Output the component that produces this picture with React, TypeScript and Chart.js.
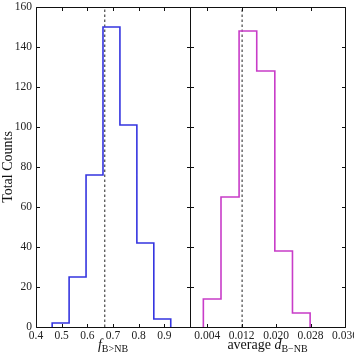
import React, { useEffect, useRef } from 'react';
import { Chart, registerables } from 'chart.js';

Chart.register(...registerables);

const W = 354;
const H = 353;

const yTickValues = [0, 20, 40, 60, 80, 100, 120, 140, 160];

const fEdges = [0.463, 0.529, 0.595, 0.661, 0.727, 0.793, 0.859, 0.925];
const fCounts = [2, 25, 76, 150, 101, 42, 4];
const fMarker = 0.668;
const fTickValues = [0.4, 0.5, 0.6, 0.7, 0.8, 0.9, 1.0];
const fTickLabels = ['0.4', '0.5', '0.6', '0.7', '0.8', '0.9', ''];

const dEdges = [0.0031, 0.0072, 0.0114, 0.0155, 0.0197, 0.0238, 0.0279];
const dCounts = [14, 65, 148, 128, 38, 7];
const dMarker = 0.0121;
const dTickValues = [0.004, 0.012, 0.02, 0.028, 0.036];
const dTickLabels = ['0.004', '0.012', '0.020', '0.028', '0.036'];

const SERIF = '"Liberation Serif", "DejaVu Serif", serif';

type Part = { text: string; font: string; dy?: number };

function stepPoints(edges: number[], counts: number[]) {
  const pts = [{ x: edges[0], y: 0 }];
  counts.forEach((c, i) => pts.push({ x: edges[i], y: c }));
  pts.push({ x: edges[edges.length - 1], y: 0 });
  return pts;
}

function makeFramePlugin(xTitle: Part[], yTitle: string | null) {
  return {
    id: 'frameTicks',
    afterDraw(chart: any) {
      const { ctx, chartArea: a, scales } = chart;
      const L = Math.round(a.left) + 0.5;
      const R = Math.round(a.right) + 0.5;
      const T = Math.round(a.top) + 0.5;
      const B = Math.round(a.bottom) + 0.5;
      const tl = 3.5;
      ctx.save();
      ctx.strokeStyle = '#111';
      ctx.lineWidth = 1;
      ctx.beginPath();
      ctx.rect(L, T, R - L, B - T);
      ctx.stroke();
      ctx.beginPath();
      scales.x.ticks.forEach((t: any) => {
        const px = Math.round(scales.x.getPixelForValue(t.value)) + 0.5;
        ctx.moveTo(px, B);
        ctx.lineTo(px, B - tl);
        ctx.moveTo(px, T);
        ctx.lineTo(px, T + tl);
      });
      scales.y.ticks.forEach((t: any) => {
        const py = Math.round(scales.y.getPixelForValue(t.value)) + 0.5;
        ctx.moveTo(L, py);
        ctx.lineTo(L + tl, py);
        ctx.moveTo(R, py);
        ctx.lineTo(R - tl, py);
      });
      ctx.stroke();

      // x title
      ctx.fillStyle = '#111';
      ctx.textBaseline = 'alphabetic';
      ctx.textAlign = 'left';
      let total = 0;
      xTitle.forEach((p) => {
        ctx.font = p.font;
        total += ctx.measureText(p.text).width;
      });
      let x = (a.left + a.right) / 2 - total / 2;
      const base = 349;
      xTitle.forEach((p) => {
        ctx.font = p.font;
        ctx.fillText(p.text, x, base + (p.dy || 0));
        x += ctx.measureText(p.text).width;
      });

      if (yTitle) {
        ctx.save();
        ctx.translate(8, (a.top + a.bottom) / 2);
        ctx.rotate(-Math.PI / 2);
        ctx.font = '14px ' + SERIF;
        ctx.textAlign = 'center';
        ctx.textBaseline = 'middle';
        ctx.fillText(yTitle, 0, 0);
        ctx.restore();
      }
      ctx.restore();
    },
  };
}

function buildConfig(opts: {
  edges: number[];
  counts: number[];
  marker: number;
  color: string;
  xMin: number;
  xMax: number;
  xTicks: number[];
  xLabels: string[];
  padLeft: number;
  padRight: number;
  yWidth: number;
  showY: boolean;
  xTitle: Part[];
  yTitle: string | null;
}): any {
  const tickFont = { family: SERIF, size: 11.5 };
  return {
    type: 'line',
    data: {
      datasets: [
        {
          data: stepPoints(opts.edges, opts.counts),
          borderColor: opts.color,
          borderWidth: 1.6,
          pointRadius: 0,
          stepped: 'before',
          fill: false,
        },
        {
          data: [
            { x: opts.marker, y: yTickValues[0] },
            { x: opts.marker, y: yTickValues[yTickValues.length - 1] },
          ],
          borderColor: '#222',
          borderWidth: 1,
          borderDash: [2.5, 2.5],
          pointRadius: 0,
          fill: false,
        },
      ],
    },
    options: {
      animation: false,
      responsive: false,
      devicePixelRatio: 1,
      events: [],
      layout: { padding: { left: opts.padLeft, right: opts.padRight, top: 7, bottom: 0 } },
      plugins: { legend: { display: false }, tooltip: { enabled: false }, title: { display: false } },
      scales: {
        x: {
          type: 'linear',
          min: opts.xMin,
          max: opts.xMax,
          grid: { display: false, drawTicks: false },
          border: { display: false },
          afterBuildTicks: (scale: any) => {
            scale.ticks = opts.xTicks.map((v) => ({ value: v }));
          },
          afterFit: (scale: any) => {
            scale.height = H - 327;
            scale.paddingLeft = 0;
            scale.paddingRight = 0;
          },
          ticks: {
            autoSkip: false,
            maxRotation: 0,
            minRotation: 0,
            padding: 2,
            color: '#222',
            font: tickFont,
            callback: (v: number) => {
              const i = opts.xTicks.findIndex((t) => Math.abs(t - v) < 1e-9);
              return i >= 0 ? opts.xLabels[i] : '';
            },
          },
        },
        y: {
          type: 'linear',
          min: yTickValues[0],
          max: yTickValues[yTickValues.length - 1],
          grid: { display: false, drawTicks: false },
          border: { display: false },
          afterBuildTicks: (scale: any) => {
            scale.ticks = yTickValues.map((v) => ({ value: v }));
          },
          afterFit: (scale: any) => {
            scale.width = opts.yWidth;
            scale.paddingTop = 0;
            scale.paddingBottom = 0;
          },
          ticks: {
            display: opts.showY,
            padding: 4,
            color: '#222',
            font: tickFont,
            callback: (v: number) => String(v),
          },
        },
      },
    },
    plugins: [makeFramePlugin(opts.xTitle, opts.yTitle)],
  };
}

export default function App() {
  const leftRef = useRef<HTMLCanvasElement>(null);
  const rightRef = useRef<HTMLCanvasElement>(null);

  useEffect(() => {
    const left = new Chart(
      leftRef.current!,
      buildConfig({
        edges: fEdges,
        counts: fCounts,
        marker: fMarker,
        color: '#3535e0',
        xMin: fTickValues[0],
        xMax: fTickValues[fTickValues.length - 1],
        xTicks: fTickValues,
        xLabels: fTickLabels,
        padLeft: 0,
        padRight: W - 190,
        yWidth: 36,
        showY: true,
        xTitle: [
          { text: 'f', font: 'italic 14px ' + SERIF },
          { text: 'B>NB', font: '10px ' + SERIF, dy: 3 },
        ],
        yTitle: 'Total Counts',
      })
    );
    const right = new Chart(
      rightRef.current!,
      buildConfig({
        edges: dEdges,
        counts: dCounts,
        marker: dMarker,
        color: '#c83cc8',
        xMin: 0,
        xMax: dTickValues[dTickValues.length - 1],
        xTicks: dTickValues,
        xLabels: dTickLabels,
        padLeft: 190,
        padRight: W - 345,
        yWidth: 0,
        showY: false,
        xTitle: [
          { text: 'average ', font: '14px ' + SERIF },
          { text: 'd', font: 'italic 14px ' + SERIF },
          { text: 'B\u2212NB', font: '10px ' + SERIF, dy: 3 },
        ],
        yTitle: null,
      })
    );
    return () => {
      left.destroy();
      right.destroy();
    };
  }, []);

  const canvasStyle: React.CSSProperties = {
    position: 'absolute',
    left: 0,
    top: 0,
    width: W,
    height: H,
  };

  return (
    <div style={{ position: 'absolute', left: 0, top: 0, width: W, height: H, background: '#fff' }}>
      <canvas ref={leftRef} width={W} height={H} style={canvasStyle} />
      <canvas ref={rightRef} width={W} height={H} style={canvasStyle} />
    </div>
  );
}
